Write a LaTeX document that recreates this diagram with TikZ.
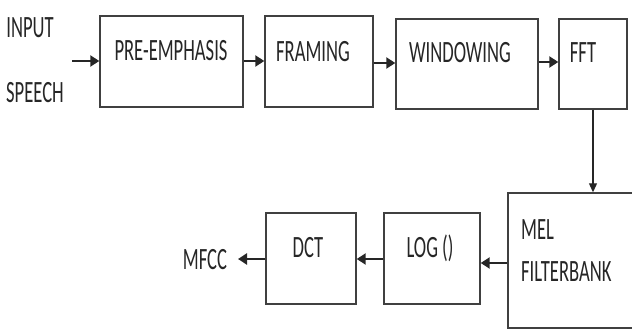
\documentclass[tikz,border=0pt]{standalone}
\usepackage{fontspec}
\setmainfont[FakeStretch=0.6]{Carlito}
\usetikzlibrary{arrows.meta}
\begin{document}
\begin{tikzpicture}[x=1pt,y=-1pt,
  box/.style={draw=black!75,line width=1.4pt,fill=white,rectangle,inner sep=0pt},
  lbl/.style={font=\fontsize{31}{33}\selectfont,text=black!85,inner sep=0pt},
  arr/.style={draw=black!85,line width=2.8pt,-{Triangle[length=9pt,width=11pt]}},
  thin/.style={draw=black!85,line width=1.1pt,-{Triangle[length=9pt,width=8pt]}}]
\useasboundingbox (0,0) rectangle (632,329);
% boxes
\node[box,minimum width=143pt,minimum height=91pt] (pre) at (171.5,61.5) {};
\node[box,minimum width=108pt,minimum height=91pt] (frm) at (319,61.5) {};
\node[box,minimum width=142pt,minimum height=90pt] (win) at (467,64) {};
\node[box,minimum width=68pt,minimum height=90pt] (fft) at (593,64) {};
\node[box,minimum width=130pt,minimum height=135pt] (mel) at (573,260.5) {};
\node[box,minimum width=96pt,minimum height=91pt] (log) at (432,258.5) {};
\node[box,minimum width=90pt,minimum height=91pt] (dct) at (311,258.5) {};
% texts
\node[lbl] (tin) at (30,28) {INPUT};
\node[lbl] (tsp) at (35,93) {SPEECH};
\node[lbl] (tpre) at (171,51) {PRE-EMPHASIS};
\node[lbl] (tfrm) at (313,52) {FRAMING};
\node[lbl] (twin) at (460,53) {WINDOWING};
\node[lbl] (tfft) at (583,53) {FFT};
\node[lbl,anchor=west] (tmel) at (521,230) {MEL};
\node[lbl,anchor=west] (tfb) at (521,272) {FILTERBANK};
\node[lbl] (tlog) at (430,248) {LOG ()};
\node[lbl] (tdct) at (308,248) {DCT};
\node[lbl] (tmf) at (205,260) {MFCC};
% connectors
\coordinate (in) at (72,61);
\coordinate (mfend) at (238,259);
\draw[arr] (in) -- (pre.west |- in);
\draw[arr] (pre.east |- 0,61) -- (frm.west |- 0,61);
\draw[arr] (frm.east |- 0,63) -- (win.west |- 0,63);
\draw[arr] (win.east |- 0,62) -- (fft.west |- 0,62);
\draw[thin] (fft.south) -- (mel.north -| fft.south);
\draw[arr] (mel.west |- 0,263) -- (log.east |- 0,263);
\draw[arr] (log.west |- 0,259) -- (dct.east |- 0,259);
\draw[arr] (dct.west |- 0,259) -- (mfend);
\end{tikzpicture}
\end{document}
